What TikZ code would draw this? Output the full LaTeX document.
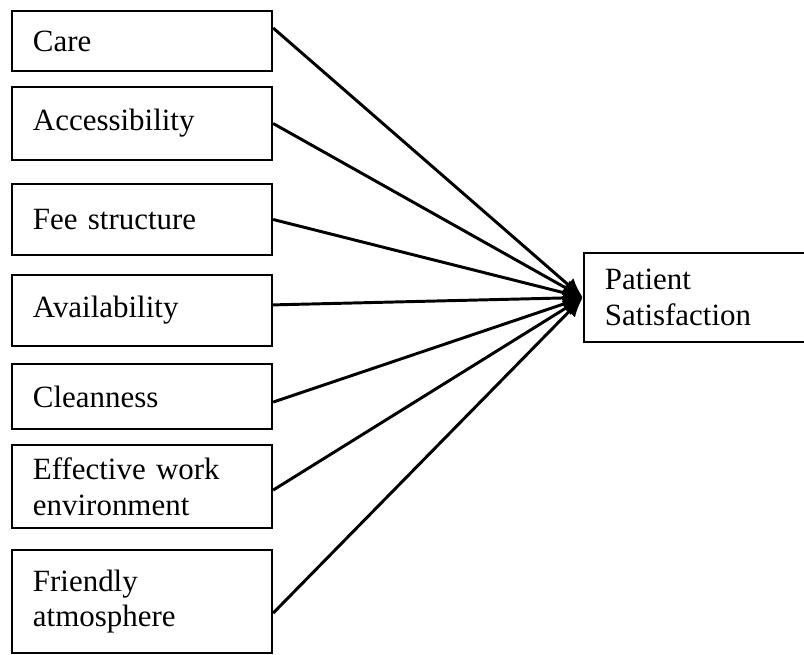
\documentclass[tikz,border=0pt]{standalone}
\usepackage{fontspec}
\setmainfont{Liberation Serif}
\usetikzlibrary{arrows.meta}
\tikzset{
    factor/.style={draw,line width=1.6pt,align=left,inner xsep=0.525cm,text width=5.45cm,font=\fontsize{22}{25.5}\selectfont},
    link/.style={line width=2.1pt,-{Latex[length=14pt,width=12pt]}}
}
\begin{document}
\begin{tikzpicture}[x=0.025cm,y=-0.025cm]
        \useasboundingbox (0,0) rectangle (804,655);
        \node[factor,minimum height=1.5cm] (care) at (142,41){Care};
        \node[factor,minimum height=1.825cm] (access) at (142,123.5){Accessibility};
        \node[factor,minimum height=1.775cm] (fee) at (142,219.5){Fee structure};
        \node[factor,minimum height=1.775cm] (avail) at (142,310.5){Availability};
        \node[factor,minimum height=1.625cm] (clean) at (142,396.5){Cleanness};
        \node[factor,minimum height=2.075cm] (effect) at (142,486.5){Effective work\\environment};
        \node[factor,minimum height=2.575cm] (friend) at (142,601.5){Friendly\\atmosphere};
        \node[factor,text width=4.6cm,minimum height=2.225cm] (pat) at (697,297.5){Patient\\Satisfaction};
        \draw[link] ([yshift=0.325cm]care.east)--(pat.west);
        \draw[link] (access.east)--(pat.west);
        \draw[link] (fee.east)--(pat.west);
        \draw[link] ([yshift=0.14cm]avail.east)--(pat.west);
        \draw[link] ([yshift=-0.14cm]clean.east)--(pat.west);
        \draw[link] ([yshift=-0.09cm]effect.east)--(pat.west);
        \draw[link] ([yshift=-0.29cm]friend.east)--(pat.west);
    \end{tikzpicture}
\end{document}
